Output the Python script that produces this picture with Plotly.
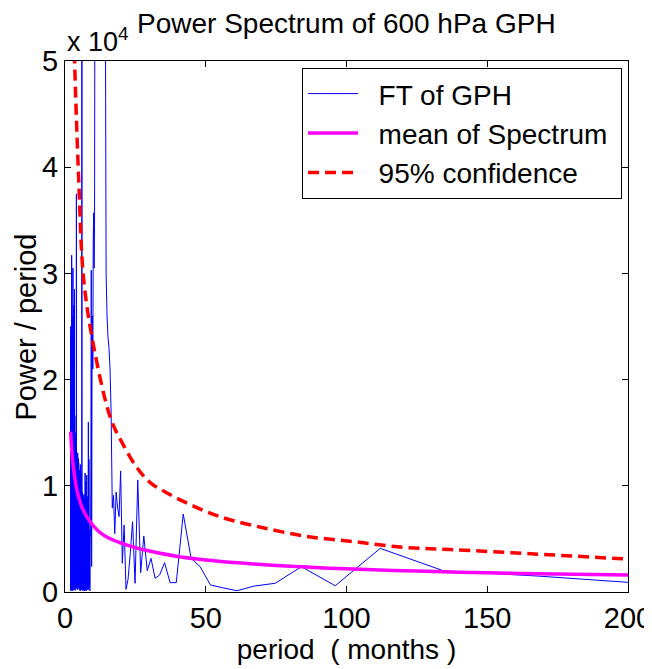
import plotly.graph_objects as go

# ---------------- data ----------------
RECORD_MONTHS = 672                      # length of the monthly record
harmonic = list(range(336, 2, -1))       # Fourier harmonics k (period = N / k)
period = [RECORD_MONTHS / k for k in harmonic]

# power / period for each harmonic, ordered k = 336 ... 3 (period increasing)
fft_power = [
    # k 336-225  (period 2-3)
    8000, 19000, 1200, 25000, 300, 16000, 4000, 21000, 700, 13000, 17500, 200, 9000, 22000, 2500, 15000,
    600, 18000, 11000, 100, 23000, 5000, 14000, 900, 19500, 3000, 8000, 16500, 400, 12000, 24000, 1500,
    17000, 200, 10000, 20000, 3500, 700, 15500, 22500, 1800, 9500, 300, 18500, 6000, 13500, 800, 21000,
    2200, 16000, 500, 11500, 31700, 1000, 19000, 4500, 14500, 150, 20500, 7000, 12500, 2800, 17500, 600,
    9000, 23500, 1300, 15000, 400, 18000, 5500, 10500, 26000, 900, 13000, 3200, 16800, 200, 8500, 19800,
    1600, 12000, 21500, 700, 14800, 4200, 9800, 300, 17200, 2400, 11000, 15600, 100, 7600, 18800, 3600,
    13400, 800, 30500, 2000, 10200, 16400, 500, 8800, 14200, 1100, 19400, 3900, 7200, 12800, 250, 15800,
    # k 224-168  (period 3-4)
    6200, 14600, 900, 11800, 27000, 300, 9600, 16200, 2600, 12400, 500, 15200, 7800, 1400, 13600, 4400,
    10800, 200, 17600, 5200, 12200, 800, 9200, 15400, 2000, 28500, 600, 11400, 6800, 14000, 1000, 8400,
    16600, 3000, 10600, 400, 13200, 7400, 1800, 15000, 5600, 11200, 150, 12600, 8200, 2200, 14400, 4800,
    9400, 700, 13800, 3400, 11600, 1200, 8600, 12000, 2800,
    # k 167-134  (period 4-5)
    900, 37500, 1500, 10400, 5800, 12800, 300, 8800, 13000, 2400, 7000, 11800, 600, 9800, 4600, 12400,
    1800, 6400, 13100, 200, 10200, 3800, 11400, 1300, 8200, 12600, 500, 9600, 5200, 12200, 2600, 7600, 10800, 400,
    # k 133-113  (period 5-6)
    10500, 300, 11500, 600, 9800, 200, 11000, 900, 10200, 100, 12000, 500, 9600, 300, 10800, 700,
    11200, 200, 9400, 400, 10000,
    # k 112  (semi-annual peak, off scale)
    95000,
    # k 111-96  (period 6-7)
    300, 8800, 200, 9400, 600, 8200, 100, 9000, 400, 8600, 200, 9200, 700, 8000, 100, 8800,
    # k 95-84  (period 7-8)
    300, 11200, 200, 9600, 10400, 100, 8800, 500, 11000, 200, 9000, 400,
    # k 83-75  (period 8-9)
    7000, 200, 16000, 300, 12500, 600, 5800, 100, 5200,
    # k 74-64  (period 9-10.5)
    5200, 12000, 30300, 2400, 20000, 26000, 21000, 33000, 35700, 30500, 34500,
    # k 63
    70000,
    # k 62-48  (annual peak, off scale)
    85000, 120000, 160000, 210000, 300000, 520000, 1400000, 600000, 330000, 230000, 170000,
    130000, 100000, 82000, 66000,
    # k 47-41
    60000, 30000, 26000, 24000, 23000, 21000, 16800,
    # k 40-3
    7900, 9100, 5500, 9400, 8000, 7100, 11400, 2700, 6300, 250, 1200, 3600, 6620, 820, 10550, 1820,
    5270, 2000, 3170, 1290, 1600, 2760, 880, 880, 7340, 3170, 2380, 660, 400, 120, 560, 820, 2380,
    590, 4110, 2000, 1500, 470,
]
assert len(fft_power) == len(period)

mean_period = [2, 2.5, 3, 4, 5, 6, 8, 10, 12, 15, 20, 25, 30, 40, 50, 60, 80, 100, 125, 150, 175, 200]
mean_power = [15100, 13000, 11700, 9900, 8800, 8000, 6950, 6250, 5700, 5150, 4600, 4180, 3860, 3350,
              3020, 2780, 2420, 2180, 1970, 1810, 1690, 1590]

conf_period = [2, 3, 4.87, 6.65, 10.2, 16.2, 19.8, 25.7, 30.5, 37.6, 44.7, 51.8, 58.9, 69.5, 84.9, 102.7, 120.5, 137, 166.7, 200]
conf_power = [70000, 54000, 38800, 29400, 23100, 16350, 14300, 11650, 10260, 9130, 8200, 7400, 6780, 6100, 5270, 4740, 4200, 4000, 3580, 3100]

x_ticks = [0, 50, 100, 150, 200]
y_tick_vals = [0, 10000, 20000, 30000, 40000, 50000]
y_tick_text = ["0", "1", "2", "3", "4", "5"]

# ---------------- figure ----------------
FONT = "Liberation Sans, Arial, Helvetica, sans-serif"
PAD = "\u00a0\u00a0"

fig = go.Figure()
fig.add_trace(go.Scatter(
    x=period, y=fft_power, mode="lines", name=PAD + "FT of GPH",
    line=dict(color="#0000ff", width=1, simplify=False),
))
fig.add_trace(go.Scatter(
    x=mean_period, y=mean_power, mode="lines", name=PAD + "mean of Spectrum\u00a0",
    line=dict(color="#ff00ff", width=3.5, shape="spline", smoothing=1.0),
))
fig.add_trace(go.Scatter(
    x=conf_period, y=conf_power, mode="lines", name=PAD + "95% confidence",
    line=dict(color="#ff0000", width=3.5, dash="11px,6px", shape="spline", smoothing=1.0),
))

axis_common = dict(
    showline=True, linecolor="black", linewidth=1, mirror="ticks",
    ticks="inside", ticklen=6, tickcolor="black", tickwidth=1,
    showgrid=False, zeroline=False, automargin=False,
    tickfont=dict(family=FONT, size=29, color="black"),
)

fig.update_xaxes(
    range=[0, 200], tickvals=x_ticks, ticktext=[str(t) for t in x_ticks],
    ticklabeloverflow="allow",
    title=dict(text="period\u00a0 ( months )", font=dict(family=FONT, size=28, color="black"), standoff=0),
    **axis_common,
)
fig.update_yaxes(
    range=[0, 50000], tickvals=y_tick_vals, ticktext=y_tick_text,
    **axis_common,
)

# the page body adds an 8 px offset, so the figure is 8 px smaller and margins shifted
fig.update_layout(
    width=644, height=661,
    margin=dict(l=57, r=24, t=53, b=77),
    paper_bgcolor="white", plot_bgcolor="white",
    font=dict(family=FONT, color="black"),
    legend=dict(
        x=0.421, y=0.987, xanchor="left", yanchor="top",
        bgcolor="white", bordercolor="black", borderwidth=1,
        font=dict(family=FONT, size=28, color="black"),
        tracegroupgap=0, itemwidth=50,
    ),
    annotations=[
        dict(text="Power Spectrum of 600 hPa GPH", xref="paper", yref="paper",
             x=0.5, y=1.0697, xanchor="center", yanchor="middle", showarrow=False,
             font=dict(family=FONT, size=28, color="black")),
        dict(text="x 10<sup>4</sup>", xref="paper", yref="paper",
             x=0.0, y=1.004, xanchor="left", yanchor="bottom", showarrow=False,
             font=dict(family=FONT, size=27, color="black")),
        dict(text="Power / period", xref="paper", yref="paper", textangle=-90,
             x=-0.0693, y=0.5, xanchor="center", yanchor="middle", showarrow=False,
             font=dict(family=FONT, size=29, color="black")),
    ],
    showlegend=True,
)

fig.write_html("out.html")
